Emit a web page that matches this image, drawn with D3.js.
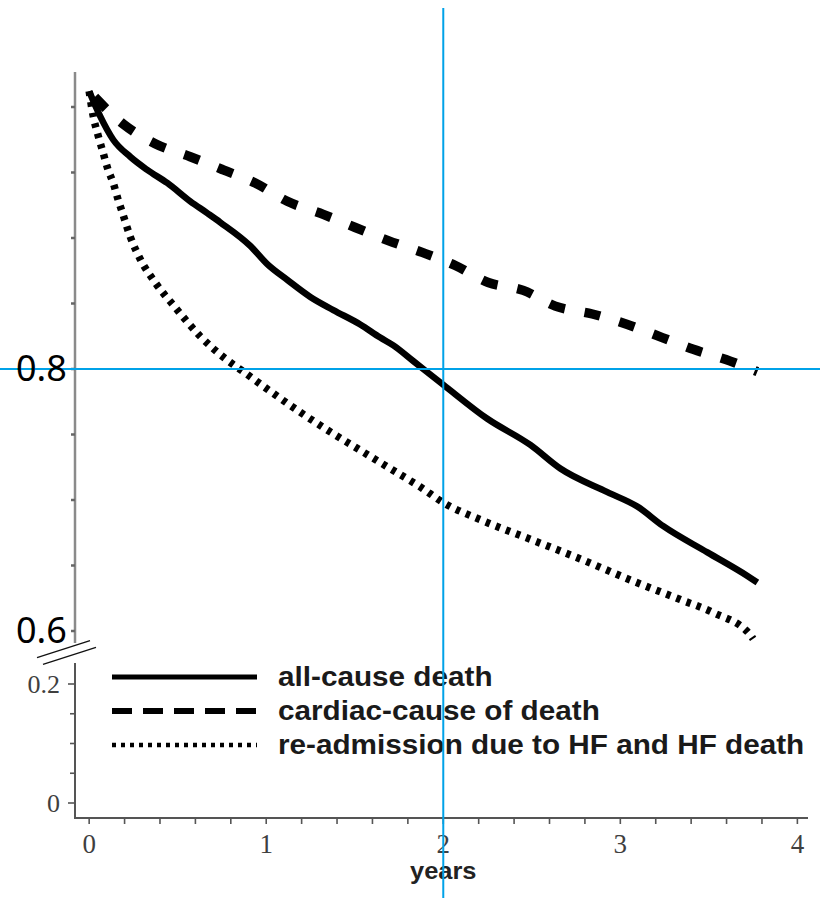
<!DOCTYPE html>
<html>
<head>
<meta charset="utf-8">
<script src="https://cdn.jsdelivr.net/npm/d3@7/dist/d3.min.js"></script>
<style>
  html, body { margin: 0; padding: 0; background: #fff; }
  svg { display: block; }
</style>
</head>
<body>
<svg id="chart" width="820" height="898"></svg>
<script>
// Survival-type curves over follow-up time (years)
const allCauseYears  = [0, 0.062, 0.136, 0.232, 0.328, 0.441, 0.571, 0.667, 0.740, 0.910, 1.006, 1.119, 1.249, 1.379, 1.531, 1.644, 1.718, 1.831, 2.0, 2.249, 2.492, 2.661, 2.927, 3.096, 3.243, 3.492, 3.718, 3.774];
const allCauseValues = [1.012, 0.993, 0.975, 0.962, 0.952, 0.942, 0.928, 0.919, 0.912, 0.894, 0.880, 0.868, 0.855, 0.845, 0.834, 0.824, 0.818, 0.806, 0.788, 0.762, 0.742, 0.724, 0.706, 0.695, 0.680, 0.660, 0.642, 0.637];

const cardiacYears  = [0, 0.192, 0.373, 0.571, 0.757, 0.938, 1.119, 1.322, 1.503, 1.689, 1.881, 2.068, 2.254, 2.452, 2.633, 2.842, 3.040, 3.237, 3.412, 3.621, 3.774];
const cardiacValues = [1.012, 0.987, 0.972, 0.962, 0.952, 0.942, 0.928, 0.918, 0.908, 0.898, 0.889, 0.879, 0.866, 0.860, 0.848, 0.842, 0.834, 0.824, 0.815, 0.806, 0.798];

const readmitYears  = [0, 0.023, 0.051, 0.079, 0.107, 0.136, 0.164, 0.186, 0.232, 0.288, 0.373, 0.486, 0.627, 0.768, 0.881, 1.023, 1.192, 1.362, 1.531, 1.700, 1.870, 2.0, 2.209, 2.492, 2.774, 3.056, 3.339, 3.525, 3.734, 3.75];
const readmitValues = [1.012, 0.993, 0.978, 0.965, 0.952, 0.942, 0.929, 0.920, 0.901, 0.884, 0.866, 0.847, 0.825, 0.808, 0.797, 0.783, 0.767, 0.752, 0.738, 0.724, 0.710, 0.698, 0.685, 0.670, 0.655, 0.639, 0.624, 0.614, 0.597, 0.594];

const legendLabels = ["all-cause death", "cardiac-cause of death", "re-admission due to HF and HF death"];
const xTickValues = [0, 1, 2, 3, 4];
const upperTickValues = [0.6, 0.65, 0.7, 0.75, 0.8, 0.85, 0.9, 0.95, 1.0];
const lowerTickValues = [0, 0.05, 0.1, 0.15, 0.2];
const lowerLabelValues = [0, 0.2];
const markedValues = [0.8, 0.6];   // values called out beside the upper axis
const markedYear = 2;
const xLabel = "years";

const svg = d3.select("#chart");

// Scales: time axis, plus a broken value axis (upper zoomed part, lower part near zero)
const x = d3.scaleLinear().domain([-0.08, 4.06]).range([75, 808]);
const yHigh = d3.scaleLinear().domain([0.6, 1.0]).range([631, 107]);
const yLow = d3.scaleLinear().domain([0, 0.2]).range([803, 684]);

const axisX = x.range()[0];
const axisBottom = 818;
const upperTop = 72, upperBottom = 643, lowerTop = 663;

// Soft edge for the plotted curves
const defs = svg.append("defs");
defs.append("filter").attr("id", "soft")
  .append("feGaussianBlur").attr("stdDeviation", 0.7);

const axisG = svg.append("g");

// Upper y axis
axisG.append("line")
  .attr("x1", axisX).attr("x2", axisX)
  .attr("y1", upperTop).attr("y2", upperBottom)
  .attr("stroke", "#8a8a8a").attr("stroke-width", 2.5);
axisG.selectAll(".utick").data(upperTickValues).join("line")
  .attr("x1", axisX - 4).attr("x2", axisX)
  .attr("y1", d => yHigh(d)).attr("y2", d => yHigh(d))
  .attr("stroke", "#666").attr("stroke-width", 2.5);

// Lower y axis
axisG.append("line")
  .attr("x1", axisX).attr("x2", axisX)
  .attr("y1", lowerTop).attr("y2", axisBottom)
  .attr("stroke", "#555").attr("stroke-width", 2);
axisG.selectAll(".ltick").data(lowerTickValues).join("line")
  .attr("x1", d => lowerLabelValues.includes(d) ? axisX - 7 : axisX - 5).attr("x2", axisX)
  .attr("y1", d => yLow(d)).attr("y2", d => yLow(d))
  .attr("stroke", "#555").attr("stroke-width", 1.6);
axisG.selectAll(".llabel").data(lowerLabelValues).join("text")
  .attr("x", axisX - 15).attr("y", d => yLow(d) + 9)
  .attr("text-anchor", "end")
  .attr("font-family", "'Liberation Serif', 'DejaVu Serif', serif")
  .attr("font-size", 26).attr("fill", "#3f3f3f")
  .text(d => d === 0 ? "0" : d3.format(".1f")(d));

// X axis
axisG.append("line")
  .attr("x1", axisX - 1).attr("x2", x.range()[1])
  .attr("y1", axisBottom).attr("y2", axisBottom)
  .attr("stroke", "#555").attr("stroke-width", 2.2);
axisG.selectAll(".xtick").data(d3.range(0, 21).map(i => i * 0.2)).join("line")
  .attr("x1", d => x(d)).attr("x2", d => x(d))
  .attr("y1", axisBottom).attr("y2", axisBottom + 6)
  .attr("stroke", "#555").attr("stroke-width", 1.6);
axisG.selectAll(".xlabel").data(xTickValues).join("text")
  .attr("x", d => x(d)).attr("y", 853)
  .attr("text-anchor", "middle")
  .attr("font-family", "'Liberation Serif', 'DejaVu Serif', serif")
  .attr("font-size", 27).attr("fill", "#3f3f3f")
  .text(d => d);
axisG.append("text")
  .attr("transform", `translate(${x(2)},879) scale(1.06,1)`)
  .attr("text-anchor", "middle")
  .attr("font-family", "'Liberation Sans', Arial, sans-serif")
  .attr("font-weight", "bold").attr("font-size", 24).attr("fill", "#222")
  .text(xLabel);

// Break marks between the two parts of the value axis
const breakY = (upperBottom + lowerTop) / 2;
[-3, 3].forEach(off => {
  axisG.append("line")
    .attr("x1", axisX - 35 + off).attr("y1", breakY + 8 + off * 1.1)
    .attr("x2", axisX + 18 + off).attr("y2", breakY - 9 + off * 1.1)
    .attr("stroke", "#111").attr("stroke-width", 1.3);
});

// Curves
const line = d3.line().x(d => x(d[0])).y(d => yHigh(d[1])).curve(d3.curveMonotoneX);
const curves = [
  { years: allCauseYears, values: allCauseValues, width: 6.5, dash: null, offset: 0 },
  { years: cardiacYears, values: cardiacValues, width: 9.5, dash: "16 20", offset: -8 },
  { years: readmitYears, values: readmitValues, width: 7.5, dash: "4.5 6.3", offset: 0 }
];
const curveG = svg.append("g").attr("filter", "url(#soft)");
curves.forEach(c => {
  curveG.append("path")
    .datum(d3.zip(c.years, c.values))
    .attr("d", line)
    .attr("fill", "none")
    .attr("stroke", "#000")
    .attr("stroke-width", c.width)
    .attr("stroke-linejoin", "round")
    .attr("stroke-dasharray", c.dash)
    .attr("stroke-dashoffset", c.offset);
});

// Legend
const legendStyles = [
  { dash: null, width: 5 },
  { dash: "20 11", width: 6 },
  { dash: "4 5", width: 4.5 }
];
const legendRows = [677, 711, 745];
const legendG = svg.append("g");
legendLabels.forEach((label, i) => {
  legendG.append("line")
    .attr("x1", 112).attr("x2", 257)
    .attr("y1", legendRows[i]).attr("y2", legendRows[i])
    .attr("stroke", "#000").attr("stroke-width", legendStyles[i].width)
    .attr("stroke-dasharray", legendStyles[i].dash);
  legendG.append("text")
    .attr("transform", `translate(278,${legendRows[i] + 9}) scale(1.1,1)`)
    .attr("font-family", "'Liberation Sans', Arial, sans-serif")
    .attr("font-weight", "bold").attr("font-size", 27).attr("fill", "#1a1a1a")
    .text(label);
});

// Crosshair marking the chosen year and value
const cross = svg.append("g");
cross.append("line")
  .attr("x1", x(markedYear)).attr("x2", x(markedYear))
  .attr("y1", 8).attr("y2", 898)
  .attr("stroke", "#00a2e8").attr("stroke-width", 2);
cross.append("line")
  .attr("x1", 0).attr("x2", 820)
  .attr("y1", yHigh(0.8)).attr("y2", yHigh(0.8))
  .attr("stroke", "#00a2e8").attr("stroke-width", 2);

// Value callouts beside the upper axis
svg.selectAll(".callout").data(markedValues).join("text")
  .attr("x", 16).attr("y", d => yHigh(d) + 12)
  .attr("font-family", "'Noto Sans', 'DejaVu Sans', sans-serif")
  .attr("font-size", 36).attr("fill", "#000")
  .text(d => d3.format(".1f")(d));
</script>
</body>
</html>
